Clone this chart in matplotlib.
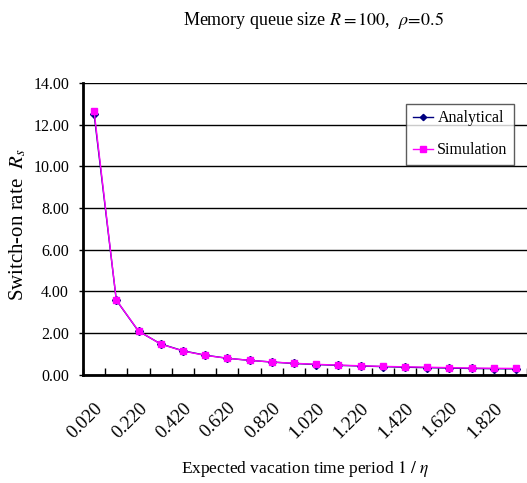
import matplotlib.pyplot as plt
import numpy as np

# expected vacation time period 1/eta (category axis)
vacation = ["0.020", "0.120", "0.220", "0.320", "0.420", "0.520", "0.620",
            "0.720", "0.820", "0.920", "1.020", "1.120", "1.220", "1.320",
            "1.420", "1.520", "1.620", "1.720", "1.820", "1.920"]

# switch-on rate R_s
analytical = [12.50, 3.57, 2.08, 1.47, 1.14, 0.93, 0.78, 0.68, 0.60, 0.53,
              0.48, 0.44, 0.41, 0.38, 0.35, 0.33, 0.31, 0.29, 0.28, 0.27]
simulation = [12.65, 3.58, 2.09, 1.46, 1.13, 0.92, 0.78, 0.68, 0.60, 0.54,
              0.49, 0.45, 0.42, 0.39, 0.37, 0.35, 0.33, 0.31, 0.30, 0.29]

plt.rcParams['font.family'] = 'Liberation Serif'
plt.rcParams['mathtext.fontset'] = 'stix'

fig = plt.figure(figsize=(5.27, 4.83), dpi=100)
ax = fig.add_axes([0.1575, 0.2246, 0.8425, 0.6036])

pos = np.arange(len(vacation))

ax.plot(pos, analytical, color='#000080', lw=1, marker='D', ms=4,
        label='Analytical', zorder=3)
ax.plot(pos, simulation, color='#ff00ff', lw=1, marker='s', ms=5,
        label='Simulation', zorder=4)

ax.set_xlim(-0.5, len(vacation) - 0.5)
ax.set_ylim(0, 14)
ax.set_yticks(np.arange(0, 15, 2))
ax.set_yticklabels(['%.2f' % v for v in np.arange(0, 15, 2)], fontsize=11.5)
ax.yaxis.grid(True, color='black', lw=1)
ax.set_axisbelow(True)

# labels on every other category, tick marks between categories
ax.set_xticks(pos[::2])
ax.set_xticklabels(vacation[::2], fontsize=13.5)
ax.set_xticks(np.arange(-0.5, len(vacation), 1), minor=True)
ax.tick_params(axis='x', which='major', length=0, pad=18)
ax.tick_params(axis='x', which='minor', direction='in', length=5, width=1)
ax.tick_params(axis='y', direction='out', length=3, width=1, pad=7)
for lbl in ax.get_xticklabels():
    lbl.set_rotation(45)
    lbl.set_ha('right')
    lbl.set_rotation_mode('anchor')

for side in ['top', 'right']:
    ax.spines[side].set_visible(False)
for side in ['left', 'bottom']:
    ax.spines[side].set_linewidth(2)

ax.set_ylabel('Switch-on rate  $R_s$', fontsize=15)
ax.yaxis.set_label_coords(-0.124, 0.513)
ax.set_xlabel('Expected vacation time period $1\\ /\\ \\eta$', fontsize=12.5,
              labelpad=13)
fig.text(0.595, 0.957, 'Memory queue size $R = 100$,  $\\rho\\!=\\!0.5$',
         ha='center', va='center', fontsize=13)

leg = ax.legend(loc='upper right', bbox_to_anchor=(0.971, 0.928),
                fontsize=11.5, frameon=True, fancybox=False,
                handlelength=1.3, handletextpad=0.25, borderpad=0.4,
                labelspacing=1.0, borderaxespad=0, markerscale=0.8)
leg.get_frame().set_edgecolor('#333333')
leg.get_frame().set_linewidth(1)

fig.savefig('out.png', dpi=100)
